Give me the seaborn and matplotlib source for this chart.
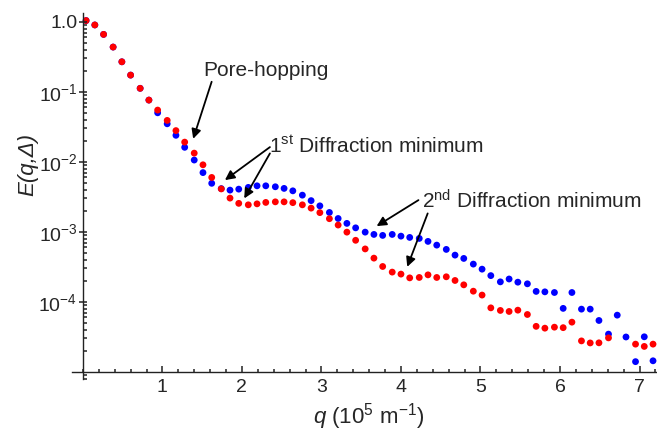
import numpy as np
import pandas as pd
import seaborn as sns
import matplotlib
matplotlib.use("Agg")
import matplotlib.pyplot as plt
from matplotlib.ticker import LogLocator, NullFormatter, MultipleLocator

# q in 10^5 m^-1
q = [0.04, 0.15, 0.26, 0.38, 0.49, 0.60, 0.72, 0.83, 0.94, 1.06,
     1.17, 1.28, 1.40, 1.51, 1.62, 1.74, 1.85, 1.96, 2.08, 2.19,
     2.30, 2.42, 2.53, 2.64, 2.76, 2.87, 2.98, 3.10, 3.21, 3.32,
     3.43, 3.55, 3.66, 3.77, 3.89, 4.00, 4.11, 4.23, 4.34, 4.45,
     4.57, 4.68, 4.79, 4.91, 5.02, 5.13, 5.25, 5.36, 5.47, 5.59,
     5.70, 5.81, 5.93, 6.04, 6.15, 6.27, 6.38, 6.49, 6.61, 6.72,
     6.83, 6.95, 7.06, 7.17]

# red series
E_red = [1.04, 0.90, 0.66, 0.435, 0.268, 0.173, 0.112, 0.0761, 0.0548, 0.0390,
         0.0279, 0.0191, 0.0133, 0.00906, 0.00598, 0.00410, 0.00303, 0.00255, 0.00243, 0.00251,
         0.00263, 0.00268, 0.00268, 0.00261, 0.00243, 0.00218, 0.00188, 0.00154, 0.00125, 0.000990,
         0.000757, 0.000570, 0.000421, 0.000320, 0.000266, 0.000249, 0.000220, 0.000223, 0.000243, 0.000223,
         0.000228, 0.000202, 0.000175, 0.000142, 0.000125, 8.21e-5, 7.54e-5, 7.29e-5, 7.61e-5, 6.60e-5,
         4.47e-5, 4.21e-5, 4.35e-5, 4.28e-5, 5.13e-5, 2.77e-5, 2.59e-5, 2.60e-5, 3.06e-5, np.nan,
         np.nan, 2.49e-5, 2.31e-5, 2.49e-5]

# blue series
E_blue = [1.04, 0.90, 0.66, 0.435, 0.268, 0.173, 0.112, 0.0761, 0.0501, 0.0349,
          0.0239, 0.0161, 0.0106, 0.00701, 0.00493, 0.00414, 0.00394, 0.00407, 0.00431, 0.00454,
          0.00454, 0.00440, 0.00417, 0.00385, 0.00334, 0.00279, 0.00235, 0.00189, 0.00155, 0.00132,
          0.00114, 0.000990, 0.000918, 0.000889, 0.000918, 0.000868, 0.000832, 0.000805, 0.000730, 0.000646,
          0.000561, 0.000465, 0.000417, 0.000346, 0.000293, 0.000237, 0.000193, 0.000212, 0.000191, 0.000181,
          0.000141, 0.000139, 0.000136, 8.07e-5, 0.000136, 7.87e-5, 7.87e-5, 5.42e-5, 3.46e-5, 6.46e-5,
          3.15e-5, 1.40e-5, 3.17e-5, 1.44e-5]

ytick_vals = [1e-4, 1e-3, 1e-2, 1e-1, 1.0]
ytick_labels = ['10$^{-4}$', '10$^{-3}$', '10$^{-2}$', '10$^{-1}$', '1.0']
xtick_vals = [1, 2, 3, 4, 5, 6, 7]

df = pd.concat([
    pd.DataFrame({'q': q, 'E': E_blue, 'series': 'blue'}),
    pd.DataFrame({'q': q, 'E': E_red, 'series': 'red'}),
]).dropna()

sns.set_style('ticks')
plt.rcParams['font.family'] = ['Liberation Sans', 'DejaVu Sans']
plt.rcParams['mathtext.fontset'] = 'custom'
plt.rcParams['mathtext.rm'] = 'Liberation Sans'
plt.rcParams['mathtext.it'] = 'Liberation Sans:italic'

fig = plt.figure(figsize=(6.57, 4.36), dpi=100)
ax = fig.add_axes([0.109, 0.131, 0.891, 0.840])
ax.set_axisbelow(False)

sns.scatterplot(data=df, x='q', y='E', hue='series',
                palette={'blue': '#0000ff', 'red': '#ff0000'},
                s=24, linewidth=0, legend=False, ax=ax)

ax.set_yscale('log')
ax.set_ylim(10 ** -5.10, 10 ** 0.13)
ax.set_xlim(-0.142, 7.22)

for side in ['top', 'right']:
    ax.spines[side].set_visible(False)
ax.spines['left'].set_position(('data', 0))
ax.spines['bottom'].set_position(('data', 1e-5))
for side in ['left', 'bottom']:
    ax.spines[side].set_linewidth(1.0)
    ax.spines[side].set_color('#222222')

ax.set_yticks(ytick_vals)
ax.set_yticklabels(ytick_labels)
ax.yaxis.set_minor_locator(LogLocator(base=10, subs=np.arange(2, 10), numticks=20))
ax.yaxis.set_minor_formatter(NullFormatter())
ax.set_xticks(xtick_vals)
ax.set_xticklabels([str(v) for v in xtick_vals])
ax.xaxis.set_minor_locator(MultipleLocator(0.2))

ax.tick_params(axis='y', which='major', direction='inout', length=6, width=1.1, pad=1, labelsize=14, color='#222222')
ax.tick_params(axis='y', which='minor', direction='in', length=3, width=1.1, color='#222222')
ax.tick_params(axis='x', which='major', direction='in', length=4, width=1.1, pad=5, labelsize=14, color='#222222')
ax.tick_params(axis='x', which='minor', direction='in', length=2, width=1.1, color='#222222')

ax.set_xlabel('$q$ (10$^{5}$ m$^{-1}$)', fontsize=16, va='center')
ax.xaxis.set_label_coords(0.508, -0.104)
ax.set_ylabel('E(q,Δ)', fontsize=16, style='italic', va='center')
ax.yaxis.set_label_coords(-0.075, 0.584)

arrow = dict(arrowstyle='-|>', color='black', lw=1.3, mutation_scale=14, shrinkA=0, shrinkB=0)

ax.text(1.509, 10 ** -0.69, 'Pore-hopping', fontsize=15, ha='left', va='center')
ax.annotate('', xy=(1.387, 0.0213), xytext=(1.619, 10 ** -0.857), arrowprops=arrow)

ax.text(2.34, 10 ** (-(153 - 21.7) / 70), '1$^{\\mathrm{st}}$ Diffraction minimum',
        fontsize=15, ha='left', va='baseline')
ax.annotate('', xy=(1.786, 10 ** (-(180 - 21.7) / 70)), xytext=(2.352, 10 ** (-(147 - 21.7) / 70)), arrowprops=arrow)
ax.annotate('', xy=(2.029, 10 ** (-(198.3 - 21.7) / 70)), xytext=(2.352, 10 ** (-(153.3 - 21.7) / 70)), arrowprops=arrow)

ax.text(4.26, 10 ** (-(208 - 21.7) / 70), '2$^{\\mathrm{nd}}$ Diffraction minimum',
        fontsize=15, ha='left', va='baseline')
ax.annotate('', xy=(3.694, 10 ** (-(226 - 21.7) / 70)), xytext=(4.22, 10 ** (-(200 - 21.7) / 70)), arrowprops=arrow)
ax.annotate('', xy=(4.079, 10 ** (-(266.7 - 21.7) / 70)), xytext=(4.336, 10 ** (-(213.3 - 21.7) / 70)), arrowprops=arrow)

fig.savefig('out.png', dpi=100)
